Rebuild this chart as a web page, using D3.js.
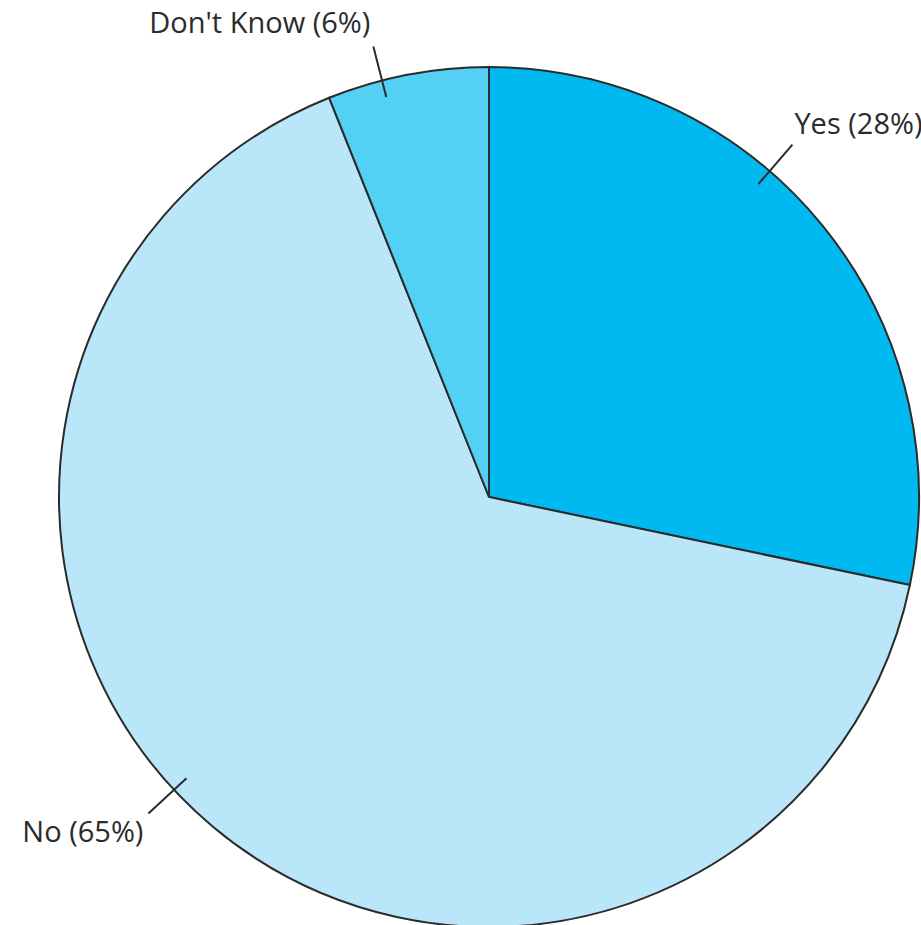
<!DOCTYPE html>
<meta charset="utf-8">
<style>
body {
  margin: 0;
  background: #fff;
}
.slice {
  stroke: #2b2b2b;
  stroke-width: 2px;
}
.leader {
  stroke: #2b2b2b;
  stroke-width: 2px;
}
.label {
  font: 29px "Open Sans", sans-serif;
  fill: #2b2b2b;
}
</style>
<body>
<svg width="921" height="925"></svg>
<script src="https://d3js.org/d3.v7.min.js"></script>
<script>

var categories = ["Yes", "No", "Don't Know"];
var values = [28, 65, 6];
var colors = ["#00b9f0", "#b9e6f8", "#55d0f5"];

var svg = d3.select("svg"),
    cx = 489, cy = 497, radius = 430;

var g = svg.append("g")
    .attr("transform", "translate(" + cx + "," + cy + ")");

var data = categories.map(function(c, i) { return {name: c, value: values[i], color: colors[i]}; });

var pie = d3.pie()
    .sort(null)
    .value(function(d) { return d.value; });

var arc = d3.arc()
    .innerRadius(0)
    .outerRadius(radius);

var arcs = pie(data);

g.selectAll("path.slice")
    .data(arcs)
  .enter().append("path")
    .attr("class", "slice")
    .attr("fill", function(d) { return d.data.color; })
    .attr("d", arc);

// where the leader sits inside each slice, and how the text hangs off it
var labelPos = [
  {t: 0.40, dx: 2, dy: -11, anchor: "start"},
  {t: 0.53, dx: -5, dy: 28, anchor: "end"},
  {t: 0.34, dx: -3, dy: -14, anchor: "end"}
];

function pt(a, r) {
  return [Math.sin(a) * r, -Math.cos(a) * r];
}

arcs.forEach(function(d, i) {
  var p = labelPos[i],
      a = d.startAngle + (d.endAngle - d.startAngle) * p.t,
      p0 = pt(a, radius - 17),
      p1 = pt(a, radius + 35);

  g.append("line")
      .attr("class", "leader")
      .attr("x1", p0[0]).attr("y1", p0[1])
      .attr("x2", p1[0]).attr("y2", p1[1]);

  g.append("text")
      .attr("class", "label")
      .attr("x", p1[0] + p.dx)
      .attr("y", p1[1] + p.dy)
      .attr("text-anchor", p.anchor)
      .text(d.data.name + " (" + d.data.value + "%)");
});

</script>
</body>
